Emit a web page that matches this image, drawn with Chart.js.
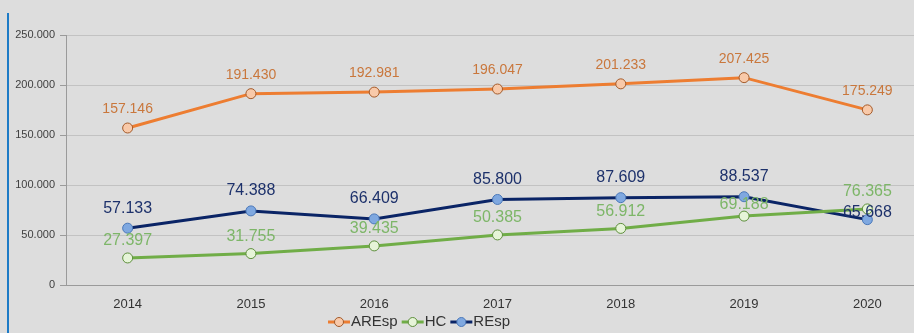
<!DOCTYPE html>
<html>
<head>
<meta charset="utf-8">
<script src="https://cdn.jsdelivr.net/npm/chart.js@4.4.1/dist/chart.umd.min.js"></script>
<style>
  html, body { margin: 0; padding: 0; background: #dddddd; overflow: hidden; }
  #wrap { position: relative; width: 914px; height: 333px; overflow: hidden; }
  #bar { position: absolute; left: 7px; top: 13px; bottom: 0; width: 2px; background: #1d7bc6; }
  canvas { position: absolute; left: 0; top: 0; }
</style>
</head>
<body>
<div id="wrap">
  <div id="bar"></div>
  <canvas id="chart" width="935" height="333"></canvas>
</div>
<script>
const years = ['2014', '2015', '2016', '2017', '2018', '2019', '2020'];
const aresp = [157146, 191430, 192981, 196047, 201233, 207425, 175249];
const hc = [27397, 31755, 39435, 50385, 56912, 69188, 76365];
const resp = [57133, 74388, 66409, 85800, 87609, 88537, 65668];
const yTicks = [0, 50000, 100000, 150000, 200000, 250000];

// 1234567 -> "1.234.567"
function fmt(n) {
  return String(Math.round(n)).replace(/\B(?=(\d{3})+(?!\d))/g, '.');
}

// value labels above each point
const valueLabels = {
  id: 'valueLabels',
  afterDatasetsDraw(chart) {
    const ctx = chart.ctx;
    chart.data.datasets.forEach((ds, i) => {
      const meta = chart.getDatasetMeta(i);
      meta.data.forEach((pt, j) => {
        let off = ds.labelOffset;
        if (ds.labelOffsetAt && ds.labelOffsetAt[j] !== undefined) off = ds.labelOffsetAt[j];
        ctx.save();
        ctx.font = ds.labelFont;
        ctx.fillStyle = ds.labelColor;
        ctx.textAlign = 'center';
        ctx.textBaseline = 'middle';
        ctx.fillText(fmt(ds.data[j]), pt.x, pt.y - off);
        ctx.restore();
      });
    });
  }
};

// legend: line + circle marker, then name
const lineLegend = {
  id: 'lineLegend',
  afterDraw(chart) {
    const ctx = chart.ctx;
    let x = 328;
    const y = 322;
    ctx.save();
    ctx.font = '15px "Liberation Sans", Arial, sans-serif';
    ctx.textBaseline = 'middle';
    chart.data.datasets.forEach(ds => {
      ctx.strokeStyle = ds.borderColor;
      ctx.lineWidth = 3;
      ctx.beginPath();
      ctx.moveTo(x, y);
      ctx.lineTo(x + 22, y);
      ctx.stroke();
      ctx.beginPath();
      ctx.arc(x + 11, y, 4.5, 0, Math.PI * 2);
      ctx.fillStyle = ds.pointBackgroundColor;
      ctx.fill();
      ctx.lineWidth = 1;
      ctx.strokeStyle = ds.pointBorderColor;
      ctx.stroke();
      ctx.fillStyle = '#333333';
      ctx.fillText(ds.label, x + 23, y);
      x += 23 + ctx.measureText(ds.label).width + 4;
    });
    ctx.restore();
  }
};

new Chart(document.getElementById('chart'), {
  type: 'line',
  data: {
    labels: years,
    datasets: [
      {
        label: 'AREsp',
        data: aresp,
        borderColor: '#ed7d31',
        borderWidth: 3,
        pointRadius: 5,
        pointBackgroundColor: '#f8c9a9',
        pointBorderColor: '#a35a2a',
        pointBorderWidth: 1,
        labelColor: '#c9773c',
        labelFont: '14px "Liberation Sans", Arial, sans-serif',
        labelOffset: 19
      },
      {
        label: 'HC',
        data: hc,
        borderColor: '#70ad47',
        borderWidth: 3,
        pointRadius: 5,
        pointBackgroundColor: '#e6f4d8',
        pointBorderColor: '#5d8e3c',
        pointBorderWidth: 1,
        labelColor: '#7db668',
        labelFont: '16px "Liberation Sans", Arial, sans-serif',
        labelOffset: 17,
        labelOffsetAt: { 5: 12 }
      },
      {
        label: 'REsp',
        data: resp,
        borderColor: '#0a2466',
        borderWidth: 3,
        pointRadius: 5,
        pointBackgroundColor: '#7fa8e0',
        pointBorderColor: '#4b78b8',
        pointBorderWidth: 1,
        labelColor: '#1d316b',
        labelFont: '16px "Liberation Sans", Arial, sans-serif',
        labelOffset: 20,
        labelOffsetAt: { 6: 7 }
      }
    ]
  },
  options: {
    responsive: false,
    animation: false,
    layout: { padding: { top: 35, bottom: 10, left: 0, right: 2 } },
    plugins: {
      legend: { display: false },
      tooltip: { enabled: false }
    },
    elements: { line: { tension: 0 } },
    scales: {
      x: {
        offset: true,
        grid: { display: false, drawTicks: false, offset: true },
        border: { display: true, color: '#9a9a9a', width: 1 },
        ticks: {
          color: '#333333',
          padding: 11,
          font: { family: '"Liberation Sans", Arial, sans-serif', size: 13 }
        }
      },
      y: {
        min: 0,
        max: 250000,
        afterFit(scale) { scale.width = 66; },
        afterBuildTicks(scale) { scale.ticks = yTicks.map(v => ({ value: v })); },
        grid: { color: '#c2c2c2', tickLength: 6, tickColor: '#9a9a9a' },
        border: { display: true, color: '#9a9a9a', width: 1 },
        ticks: {
          color: '#404040',
          padding: 5,
          font: { family: '"Liberation Sans", Arial, sans-serif', size: 11 },
          callback: v => fmt(v)
        }
      }
    }
  },
  plugins: [valueLabels, lineLegend]
});
</script>
</body>
</html>
